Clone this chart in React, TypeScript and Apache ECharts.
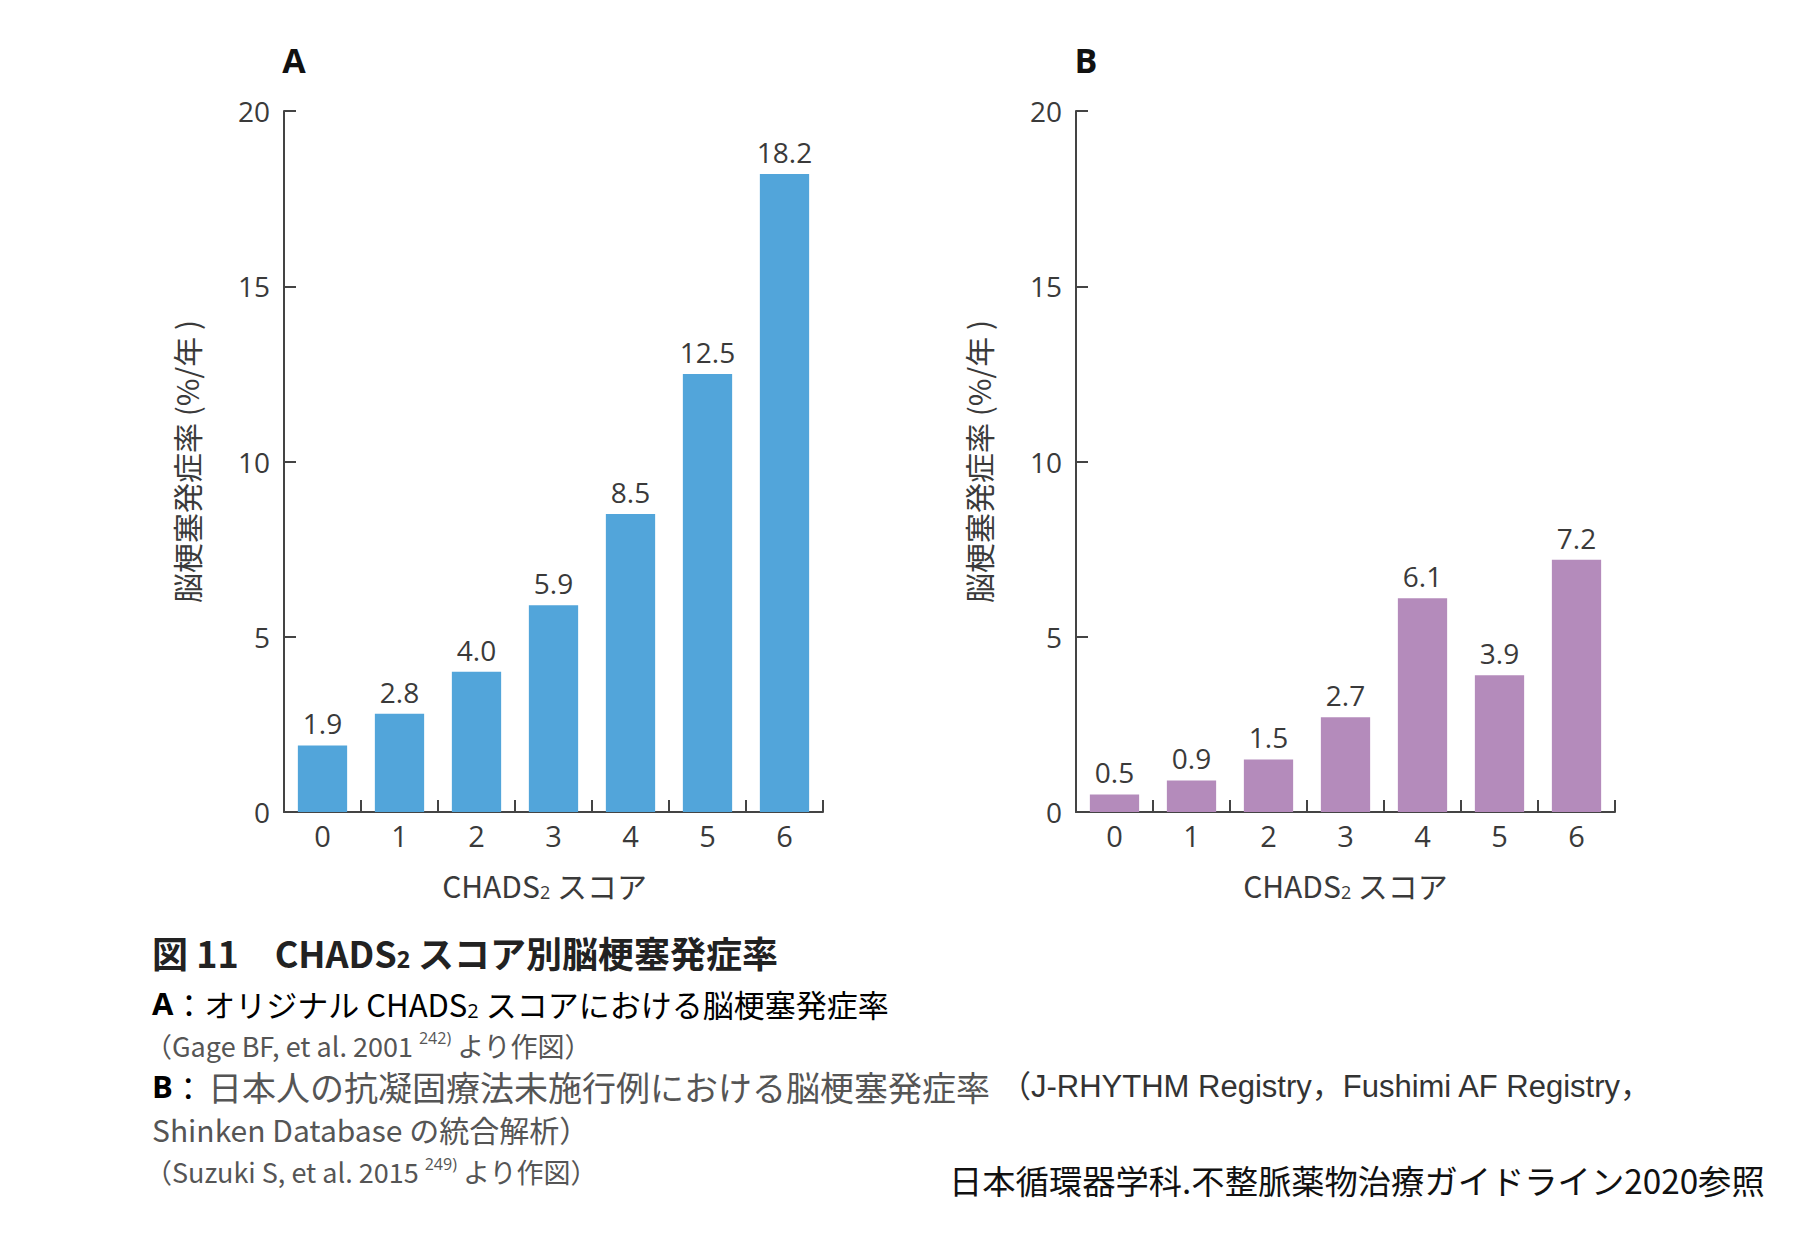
import React, { useEffect, useRef } from "react";
import * as echarts from "echarts";

const categories = ["0", "1", "2", "3", "4", "5", "6"];
const valuesA = [1.9, 2.8, 4.0, 5.9, 8.5, 12.5, 18.2];
const valuesB = [0.5, 0.9, 1.5, 2.7, 6.1, 3.9, 7.2];
const yTicks = { min: 0, max: 20, interval: 5 };

const panelLabels = ["A", "B"];
const yAxisName = "脳梗塞発症率 (%/年 )";
const xAxisName = "CHADS{sub|2} スコア";

const captionTitle = "図 11　CHADS{sub|2} スコア別脳梗塞発症率";
const captionA = "{b|A}{g|：オリジナル CHADS}{gs|2}{g| スコアにおける脳梗塞発症率}";
const captionA2 = "（Gage BF, et al. 2001 {sup|242)} より作図）";
const captionB1 = "{b|B}{g|：}";
const captionB1jp = "日本人の抗凝固療法未施行例における脳梗塞発症率";
const captionB1en = "（J-RHYTHM Registry，Fushimi AF Registry，";
const captionB2 = "Shinken Database の統合解析）";
const captionB3 = "（Suzuki S, et al. 2015 {sup|249)} より作図）";
const credit = "日本循環器学科.不整脈薬物治療ガイドライン2020参照";

const LATIN = "'Open Sans', 'Noto Sans CJK JP', sans-serif";
const CJK = "'Noto Sans CJK JP', 'Open Sans', sans-serif";
const AXIS_COLOR = "#444";
const TEXT_COLOR = "#3a3a3a";

export default function App() {
  const ref = useRef<HTMLDivElement>(null);

  useEffect(() => {
    document.body.style.margin = "0";
    if (!ref.current) return;
    const chart = echarts.init(ref.current, null, { renderer: "svg" });

    const grids = [
      { left: 284, top: 111, width: 539, height: 701 },
      { left: 1076, top: 111, width: 539, height: 701 },
    ];
    const xNamePadding = [
      [0, 18, 0, 0],
      [0, 0, 0, 0],
    ];

    const xAxis = grids.map((_, i) => ({
      type: "category",
      gridIndex: i,
      data: categories,
      boundaryGap: true,
      axisLine: { show: true, lineStyle: { color: AXIS_COLOR, width: 2 } },
      axisTick: { show: true, inside: true, length: 12, lineStyle: { color: AXIS_COLOR, width: 2 } },
      axisLabel: { fontSize: 29, color: TEXT_COLOR, fontFamily: LATIN, margin: 9 },
      name: xAxisName,
      nameLocation: "middle",
      nameGap: 57,
      nameTextStyle: {
        fontSize: 30,
        color: TEXT_COLOR,
        fontFamily: CJK,
        padding: xNamePadding[i],
        rich: {
          sub: { fontSize: 18, color: TEXT_COLOR, fontFamily: LATIN, padding: [14, 0, 0, 0] },
        },
      },
    }));

    const yAxis = grids.map((_, i) => ({
      type: "value",
      gridIndex: i,
      min: yTicks.min,
      max: yTicks.max,
      interval: yTicks.interval,
      splitLine: { show: false },
      axisLine: { show: true, lineStyle: { color: AXIS_COLOR, width: 2 } },
      axisTick: { show: true, inside: true, length: 12, lineStyle: { color: AXIS_COLOR, width: 2 } },
      axisLabel: { fontSize: 28, color: TEXT_COLOR, fontFamily: LATIN, margin: 14 },
      name: yAxisName,
      nameLocation: "middle",
      nameGap: 83,
      nameTextStyle: { fontSize: 30, color: TEXT_COLOR, fontFamily: CJK },
    }));

    const barLabel = {
      show: true,
      position: "top",
      distance: 8,
      fontSize: 28,
      color: TEXT_COLOR,
      fontFamily: LATIN,
      formatter: (p: any) => Number(p.value).toFixed(1),
    };

    const subRich = {
      sub: { fontSize: 23, fontWeight: "bold", fontFamily: LATIN, color: "#222", padding: [14, 0, 0, 0] },
    };

    const graphic: any[] = [
      {
        type: "text", x: 294, y: 60,
        style: { text: panelLabels[0], fontSize: 34, fontWeight: "bold", fontFamily: LATIN, fill: "#111", align: "center", verticalAlign: "middle" },
      },
      {
        type: "text", x: 1086, y: 60,
        style: { text: panelLabels[1], fontSize: 34, fontWeight: "bold", fontFamily: LATIN, fill: "#111", align: "center", verticalAlign: "middle" },
      },
      {
        type: "text", x: 152, y: 952,
        style: {
          text: captionTitle, fontSize: 36, fontWeight: "bold", fontFamily: CJK, fill: "#222",
          verticalAlign: "middle", rich: subRich,
        },
      },
      {
        type: "text", x: 152, y: 1003,
        style: {
          text: captionA, verticalAlign: "middle",
          rich: {
            b: { fontSize: 31, fontWeight: "bold", fontFamily: LATIN, color: "#222" },
            g: { fontSize: 31, fontFamily: CJK, color: "#555" },
            gs: { fontSize: 20, fontFamily: LATIN, color: "#555", padding: [14, 0, 0, 0] },
          },
        },
      },
      {
        type: "text", x: 145, y: 1045,
        style: {
          text: captionA2, fontSize: 27, fontFamily: CJK, fill: "#555", verticalAlign: "middle",
          rich: { sup: { fontSize: 16, fontFamily: LATIN, color: "#555", padding: [0, 0, 14, 0] } },
        },
      },
      {
        type: "text", x: 152, y: 1086,
        style: {
          text: captionB1, verticalAlign: "middle",
          rich: {
            b: { fontSize: 31, fontWeight: "bold", fontFamily: LATIN, color: "#222" },
            g: { fontSize: 31, fontFamily: CJK, color: "#555" },
          },
        },
      },
      {
        type: "text", x: 208, y: 1086,
        style: { text: captionB1jp, fontSize: 34, fontFamily: CJK, fill: "#555", verticalAlign: "middle" },
      },
      {
        type: "text", x: 1000, y: 1086,
        style: { text: captionB1en, fontSize: 31, fontFamily: "'Liberation Sans', 'Noto Sans CJK JP', sans-serif", fill: "#333", verticalAlign: "middle" },
      },
      {
        type: "text", x: 152, y: 1129,
        style: { text: captionB2, fontSize: 30, fontFamily: CJK, fill: "#555", verticalAlign: "middle" },
      },
      {
        type: "text", x: 145, y: 1171,
        style: {
          text: captionB3, fontSize: 27, fontFamily: CJK, fill: "#555", verticalAlign: "middle",
          rich: { sup: { fontSize: 16, fontFamily: LATIN, color: "#555", padding: [0, 0, 14, 0] } },
        },
      },
      {
        type: "text", x: 949, y: 1179,
        style: { text: credit, fontSize: 33.3, fontFamily: CJK, fill: "#111", verticalAlign: "middle" },
      },
    ];

    chart.setOption({
      animation: false,
      backgroundColor: "#ffffff",
      grid: grids,
      xAxis,
      yAxis,
      series: [
        {
          type: "bar",
          xAxisIndex: 0,
          yAxisIndex: 0,
          data: valuesA,
          barWidth: "64%",
          itemStyle: { color: "#52A5DA" },
          label: barLabel,
        },
        {
          type: "bar",
          xAxisIndex: 1,
          yAxisIndex: 1,
          data: valuesB,
          barWidth: "64%",
          itemStyle: { color: "#B48BBB" },
          label: barLabel,
        },
      ],
      graphic,
    });

    return () => chart.dispose();
  }, []);

  return <div ref={ref} style={{ width: 1816, height: 1242 }} />;
}
